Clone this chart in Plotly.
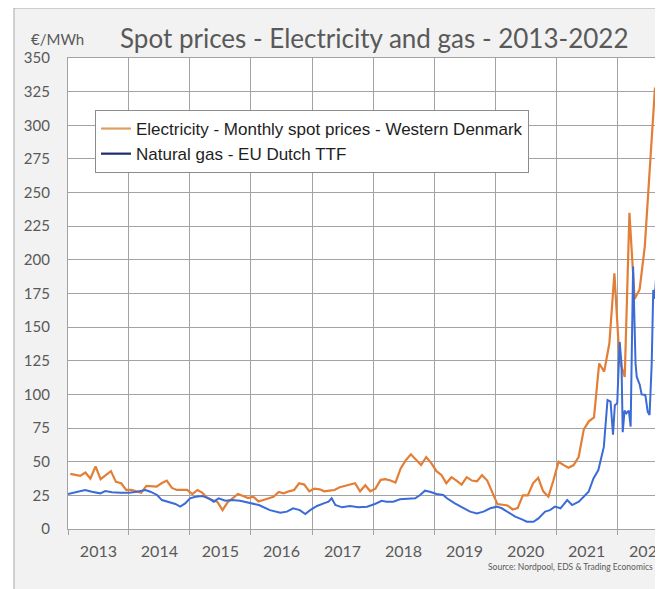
import plotly.graph_objects as go
import pandas as pd
import numpy as np

# ---------------- data ----------------
# Electricity - monthly spot prices, Western Denmark (EUR/MWh), Jan 2013 .. Aug 2022
elec_values = [
    41, 40, 39.5, 42, 37.5, 46.5, 37, 40, 43, 35, 34, 29,            # 2013
    29, 28, 27, 32, 32, 31.5, 34, 36, 30.5, 29, 29, 29,              # 2014
    26, 29, 27, 23, 21.5, 20, 14, 20, 23, 26, 24.5, 23,              # 2015
    24, 20.5, 21.5, 23, 24, 27.5, 26.5, 28, 29, 34, 33, 28,          # 2016
    30, 29.5, 28, 28.5, 29, 31, 32, 33.5, 34, 28, 32.5, 28,          # 2017
    30, 36.5, 37, 36, 34.5, 45, 51, 55.5, 51, 47.5, 53.5, 49,        # 2018
    43, 40, 34, 38.5, 36, 33, 38.5, 36, 35.5, 40, 36, 27,            # 2019
    18.5, 18, 17.5, 14.5, 15.5, 25, 25, 34, 38, 28, 24, 36,          # 2020
    50, 47.5, 45.5, 47.5, 53.5, 74, 80, 83, 123, 117, 138, 190,      # 2021
    125, 113, 235, 171, 178, 210, 265, 328,                          # 2022
]
elec_start = "2013-01-01"

# Natural gas - EU Dutch TTF (EUR/MWh), time in decimal years
gas_time = [
    2013.00, 2013.04, 2013.15, 2013.28, 2013.39, 2013.53, 2013.61, 2013.72, 2013.86,
    2014.00, 2014.13, 2014.27, 2014.35, 2014.46, 2014.54, 2014.65, 2014.76, 2014.84, 2014.92,
    2015.00, 2015.09, 2015.20, 2015.31, 2015.39, 2015.47, 2015.58, 2015.69, 2015.82, 2015.96,
    2016.13, 2016.31, 2016.48, 2016.59, 2016.69, 2016.80, 2016.89, 2016.97,
    2017.08, 2017.19, 2017.27, 2017.32, 2017.38, 2017.49, 2017.62, 2017.76, 2017.90,
    2018.03, 2018.14, 2018.22, 2018.33, 2018.44, 2018.58, 2018.69, 2018.77, 2018.85, 2018.93,
    2019.04, 2019.15, 2019.21, 2019.34, 2019.48, 2019.59, 2019.70, 2019.81, 2019.92,
    2020.03, 2020.11, 2020.22, 2020.33, 2020.44, 2020.52, 2020.63, 2020.71, 2020.82, 2020.90, 2020.98,
    2021.07, 2021.18, 2021.26, 2021.37, 2021.45, 2021.53, 2021.61, 2021.69, 2021.78, 2021.84,
    2021.89, 2021.93, 2021.96, 2022.00, 2022.04, 2022.07, 2022.09, 2022.12, 2022.15, 2022.19,
    2022.22, 2022.26, 2022.30, 2022.32, 2022.37, 2022.40, 2022.46, 2022.50, 2022.53, 2022.565,
    2022.59, 2022.61, 2022.625, 2022.645, 2022.66,
]
gas_values = [
    26, 26.5, 27.7, 29, 27.7, 26.5, 28.2, 27.3, 27,
    27, 27.7, 29, 27.7, 25.3, 21.5, 20.3, 18.6, 16.6, 19,
    22.8, 24, 24.5, 22.8, 20.3, 22.8, 21, 21.5, 21, 19.5,
    17.8, 14, 12.1, 12.9, 15.4, 14, 11.1, 14,
    17.1, 19, 20.3, 22.8, 17.8, 16.1, 17.1, 16.1, 16.6,
    18.6, 21, 20.3, 20.3, 22.1, 22.8, 22.8, 25.3, 28.5, 27.7,
    26, 25.3, 22.8, 19, 15.4, 12.9, 11.6, 12.9, 15.4,
    16.6, 15.4, 12.1, 9.2, 7.2, 5.4, 5.4, 7.9, 12.9, 14, 16.6,
    15.4, 21.5, 17.8, 20.3, 24, 27.7, 37.6, 43.8, 61, 95.8,
    94.6, 70, 92, 93.4, 139, 123, 72, 88, 86, 88,
    76, 195, 123, 113, 107, 100, 99.6, 87, 84.7, 123,
    177.6, 171, 178, 202, 206,
]

years = [str(y) for y in range(2013, 2023)]

# ---------------- helpers ----------------
elec_dates = pd.date_range(elec_start, periods=len(elec_values), freq="MS") + pd.Timedelta(days=14)


def dec_to_date(t):
    y = int(np.floor(t))
    return pd.Timestamp(year=y, month=1, day=1) + pd.Timedelta(days=(t - y) * 365.25)


gas_dates = [dec_to_date(t) for t in gas_time]

# page is offset by the 8px body margin of the html page
OFF = 8
W, H = 663 - OFF, 589 - OFF
PL, PR, PT, PB = 68, 658, 58, 529          # plot area in page pixels
L, T = PL - OFF, PT - OFF
R, B = W - (PR - OFF), H - (PB - OFF)
PW, PH = W - L - R, H - T - B


def px(x):  # page pixel -> paper x
    return (x - OFF - L) / PW


def py(y):  # page pixel -> paper y
    return (H - B - (y - OFF)) / PH


ELEC_COLOR = "#E37E36"
GAS_COLOR = "#3A6BD7"
GRID = "#A3A3A3"
TEXT = "#595959"

fig = go.Figure()
fig.add_trace(go.Scatter(x=elec_dates, y=elec_values, mode="lines",
                         line=dict(color=ELEC_COLOR, width=2.2), showlegend=False,
                         name="Electricity - Monthly spot prices - Western Denmark"))
fig.add_trace(go.Scatter(x=gas_dates, y=gas_values, mode="lines",
                         line=dict(color=GAS_COLOR, width=2), showlegend=False,
                         name="Natural gas - EU Dutch TTF"))
# legend entries (legend colours differ slightly from the drawn lines in the original)
fig.add_trace(go.Scatter(x=[None], y=[None], mode="lines",
                         line=dict(color="#DDA062", width=2.2),
                         name="Electricity - Monthly spot prices - Western Denmark"))
fig.add_trace(go.Scatter(x=[None], y=[None], mode="lines",
                         line=dict(color="#1C2A6E", width=2.2),
                         name="Natural gas - EU Dutch TTF"))

fig.update_layout(
    width=W, height=H,
    margin=dict(l=L, r=R, t=T, b=B, autoexpand=False),
    paper_bgcolor="white", plot_bgcolor="white",
    font=dict(family="Lato, 'Open Sans', sans-serif", color=TEXT),
    legend=dict(x=px(95), y=py(110), xanchor="left", yanchor="top",
                bgcolor="white", bordercolor="#8C8C8C", borderwidth=1,
                font=dict(family="Liberation Sans, Arial, sans-serif", size=17, color="#1E1E1E"),
                tracegroupgap=0),
    shapes=[
        dict(type="rect", xref="paper", yref="paper", layer="below",
             x0=px(14), x1=px(700), y0=py(640), y1=py(8),
             fillcolor="#F2F2F2", line=dict(color="#A8A8A8", width=1)),
        dict(type="rect", xref="paper", yref="paper", layer="below",
             x0=0, x1=1, y0=0, y1=1, fillcolor="white", line=dict(width=0)),
    ],
    annotations=[
        dict(text="Spot prices - Electricity and gas - 2013-2022", xref="paper", yref="paper",
             x=px(374), y=py(38), xanchor="center", yanchor="middle", showarrow=False,
             font=dict(family="Lato, sans-serif", size=26, color=TEXT)),
        dict(text="€/MWh", xref="paper", yref="paper",
             x=px(29), y=py(39), xanchor="left", yanchor="middle", showarrow=False,
             font=dict(family="Lato, sans-serif", size=15, color=TEXT)),
        dict(text="Source: Nordpool, EDS & Trading Economics", xref="paper", yref="paper",
             x=px(486), y=py(567), xanchor="left", yanchor="middle", showarrow=False,
             font=dict(family="Lato, sans-serif", size=8.5, color=TEXT)),
    ],
)

fig.update_xaxes(
    type="date", range=["2013-01-01", "2022-09-02"],
    tickmode="array",
    tickvals=[f"{y}-07-02" for y in years], ticktext=years,
    ticks="", showgrid=False, zeroline=False,
    tickfont=dict(size=16, color=TEXT), ticklabelstandoff=8,
    ticklabeloverflow="allow",
    showline=True, linecolor=GRID, linewidth=1.3, mirror=True,
    minor=dict(dtick="M12", tick0="2013-01-01", showgrid=True, gridcolor=GRID, gridwidth=1.3,
               ticks="outside", ticklen=5, tickcolor=GRID, tickwidth=1.3),
)
fig.update_yaxes(
    range=[0, 350], dtick=25, tick0=0,
    showgrid=True, gridcolor=GRID, gridwidth=1.3, zeroline=False,
    ticks="", tickfont=dict(size=15, color=TEXT), ticklabelstandoff=14,
    showline=True, linecolor=GRID, linewidth=1.3, mirror=True,
)

fig.write_html("out.html")
